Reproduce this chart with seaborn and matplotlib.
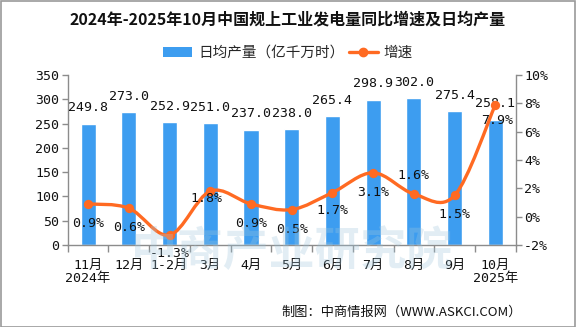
import numpy as np
import pandas as pd
import matplotlib
matplotlib.use("Agg")
import matplotlib.pyplot as plt
from matplotlib.path import Path
from matplotlib.patches import PathPatch, Rectangle
from matplotlib.lines import Line2D
import seaborn as sns

# ---------------- data ----------------
categories = ["11月\n2024年", "12月", "1-2月", "3月", "4月", "5月", "6月", "7月", "8月", "9月", "10月\n2025年"]
daily_output = [249.8, 273.0, 252.9, 251.0, 237.0, 238.0, 265.4, 298.9, 302.0, 275.4, 258.1]
growth_rate = [0.9, 0.6, -1.3, 1.8, 0.9, 0.5, 1.7, 3.1, 1.6, 1.5, 7.9]
left_ticks = [0, 50, 100, 150, 200, 250, 300, 350]
right_ticks = [-2, 0, 2, 4, 6, 8, 10]

title = "2024年-2025年10月中国规上工业发电量同比增速及日均产量"
bar_name = "日均产量（亿千万时）"
line_name = "增速"
source = "制图：中商情报网（WWW.ASKCI.COM）"
watermark = "中商产业研究院"

# label offsets (points) for the percent labels (negative = below)
pct_offsets = [(0, -14), (0, -14), (0, -13), (-3, -5), (0, -14), (0, -14),
               (0, -13), (0, -14), (0, 13), (0, -14), (1, -11)]

# ---------------- style ----------------
sns.set_theme(style="white")
plt.rcParams["font.family"] = ["Noto Sans CJK SC", "DejaVu Sans"]
plt.rcParams["axes.unicode_minus"] = False
NUMFONT = ["DejaVu Sans Mono", "Noto Sans CJK SC"]

BAR = "#3d9df0"
LINE = "#ff6a22"
SPINE = "#8c8c8c"
TXT = "#111111"

W, H = 576, 327
fig = plt.figure(figsize=(W / 100, H / 100), dpi=100)
fig.patch.set_facecolor("white")

ax = fig.add_axes([67.7 / W, 1 - 245 / H, (515.7 - 67.7) / W, 170 / H])
ax.set_facecolor("none")

# faint watermark
fig.text(292 / W, 1 - 252 / H, watermark, fontsize=33, color="#9fc6dc", alpha=0.3,
         ha="center", va="center", fontweight="bold", zorder=0)

df = pd.DataFrame({"cat": categories, "val": daily_output, "rate": growth_rate})
sns.barplot(data=df, x="cat", y="val", color=BAR, saturation=1, width=0.37, ax=ax, zorder=2)

ax.set_xlim(-0.5, len(categories) - 0.5)
ax.set_ylim(0, 350)
ax.set_yticks(left_ticks)
ax.set_yticklabels([str(t) for t in left_ticks], family=NUMFONT)
ax.set_xlabel("")
ax.set_ylabel("")

for s in ["top", "right"]:
    ax.spines[s].set_visible(False)
for s in ["left", "bottom"]:
    ax.spines[s].set_color(SPINE)
    ax.spines[s].set_linewidth(1.0)

ax.tick_params(axis="y", which="both", direction="out", length=4, width=1, color=SPINE,
               labelsize=9.5, labelcolor=TXT, pad=2, left=True)
ax.set_xticks(range(len(categories)))
ax.set_xticklabels(categories, fontsize=9.5, color=TXT, linespacing=1.0, family=NUMFONT)
ax.tick_params(axis="x", which="major", length=0, pad=10, bottom=True)
ax.set_xticks(np.arange(-0.5, len(categories), 1.0), minor=True)
ax.tick_params(axis="x", which="minor", direction="out", length=5, width=1, color=SPINE, bottom=True)

for i, v in enumerate(daily_output):
    ax.annotate(f"{v:.1f}", (i, v), xytext=(0, 11.5), textcoords="offset points",
                ha="center", va="center", fontsize=9.5, color=TXT, family=NUMFONT, zorder=5)

# ---------------- growth line ----------------
ax2 = ax.twinx()
ax2.set_ylim(-2, 10)
ax2.set_yticks(right_ticks)
ax2.set_yticklabels([f"{t}%" for t in right_ticks], family=NUMFONT)
for s in ["top", "left", "bottom"]:
    ax2.spines[s].set_visible(False)
ax2.spines["right"].set_color(SPINE)
ax2.spines["right"].set_linewidth(1.0)
ax2.tick_params(axis="y", direction="out", length=4, width=1, color=SPINE,
                labelsize=9.5, labelcolor=TXT, pad=2, right=True)
ax2.grid(False)

# smooth curve via cubic Bezier segments through the data points
xs = np.arange(len(growth_rate), dtype=float)
ys = np.array(growth_rate, dtype=float)
verts = [(xs[0], ys[0])]
codes = [Path.MOVETO]
n = len(xs)
for i in range(n - 1):
    p0 = (xs[max(i - 1, 0)], ys[max(i - 1, 0)])
    p1 = (xs[i], ys[i])
    p2 = (xs[i + 1], ys[i + 1])
    p3 = (xs[min(i + 2, n - 1)], ys[min(i + 2, n - 1)])
    c1 = (p1[0] + (p2[0] - p0[0]) / 6, p1[1] + (p2[1] - p0[1]) / 6)
    c2 = (p2[0] - (p3[0] - p1[0]) / 6, p2[1] - (p3[1] - p1[1]) / 6)
    verts += [c1, c2, p2]
    codes += [Path.CURVE4] * 3
patch = PathPatch(Path(verts, codes), facecolor="none", edgecolor=LINE, lw=2.4,
                  capstyle="round", joinstyle="round", zorder=3)
ax2.add_patch(patch)
sns.scatterplot(x=xs, y=ys, color=LINE, s=45, edgecolor=LINE, linewidth=0, ax=ax2, zorder=4)

for i, v in enumerate(growth_rate):
    dx, dy = pct_offsets[i]
    ax2.annotate(f"{v}%", (i, v), xytext=(dx, dy), textcoords="offset points",
                 ha="center", va="center", fontsize=9.5, color=TXT, family=NUMFONT, zorder=5)

# ---------------- title, legend, source ----------------
fig.text(0.5, 1 - 20 / H, title, ha="center", va="center", fontsize=11.5,
         fontweight="bold", color=TXT)

handles = [Rectangle((0, 0), 1, 1, facecolor=BAR, edgecolor="none"),
           Line2D([0], [0], color=LINE, lw=2.4, marker="o", markersize=6)]
fig.legend(handles, [bar_name, line_name], loc="center", bbox_to_anchor=(288 / W, 1 - 53 / H),
           ncol=2, frameon=False, fontsize=10.5, handlelength=2.0, handleheight=0.7,
           columnspacing=0.3, handletextpad=0.4)

fig.text(522 / W, 1 - 312 / H, source, ha="right", va="center", fontsize=9.5, color=TXT,
         family=["Noto Sans CJK SC", "DejaVu Sans"])

# figure border
fig.add_artist(Rectangle((0.5 / W, 0.5 / H), 1 - 1.5 / W, 1 - 1.5 / H, transform=fig.transFigure,
                         facecolor="none", edgecolor="#9a9a9a", lw=1.2))

fig.savefig("out.png", dpi=100)
